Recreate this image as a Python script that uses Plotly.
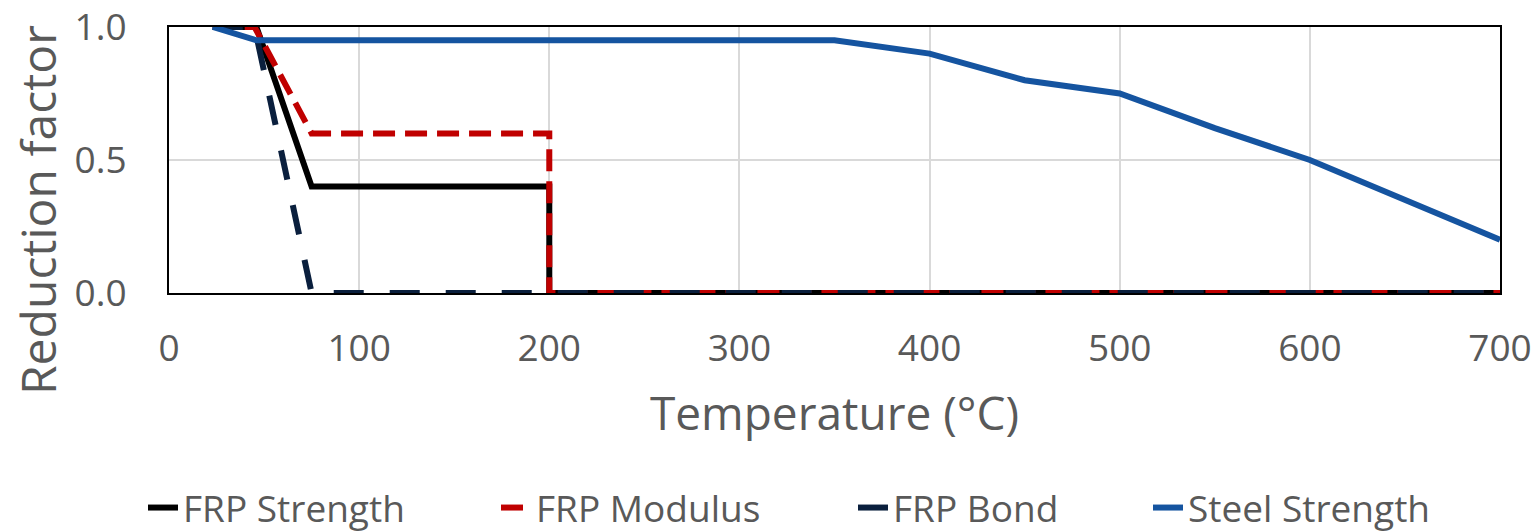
import plotly.graph_objects as go

# Data
frp_strength_T = [23, 46, 75, 200, 200, 700]
frp_strength_k = [1.0, 1.0, 0.4, 0.4, 0.0, 0.0]

frp_modulus_T = [23, 45, 75, 200, 200, 700]
frp_modulus_k = [1.0, 1.0, 0.6, 0.6, 0.0, 0.0]

frp_bond_T = [23, 45, 75, 700]
frp_bond_k = [1.0, 1.0, 0.0, 0.0]

steel_T = [23, 46, 350, 400, 450, 500, 550, 600, 700]
steel_k = [1.0, 0.95, 0.95, 0.9, 0.8, 0.75, 0.62, 0.5, 0.2]

x_ticks = [0, 100, 200, 300, 400, 500, 600, 700]
y_ticks = [0.0, 0.5, 1.0]
y_tick_labels = ["0.0", "0.5", "1.0"]

FONT = "Open Sans"
GREY = "#595959"

W, H = 1537, 532
L, R, T, B = 169, 37, 27, 239
PW = W - L - R
PH = H - T - B


def px_to_paper_x(px):
    return (px - L) / PW


def px_to_paper_y(py):
    return (H - B - py) / PH


fig = go.Figure()
fig.add_trace(go.Scatter(x=frp_strength_T, y=frp_strength_k, mode="lines", name="FRP Strength",
                         line=dict(color="#000000", width=6), legend="legend"))
fig.add_trace(go.Scatter(x=frp_modulus_T, y=frp_modulus_k, mode="lines", name="FRP Modulus",
                         line=dict(color="#C00000", width=6, dash="22px,10px"), legend="legend2"))
fig.add_trace(go.Scatter(x=frp_bond_T, y=frp_bond_k, mode="lines", name="FRP Bond",
                         line=dict(color="#0A1F3D", width=6, dash="30px,26px"), legend="legend3"))
fig.add_trace(go.Scatter(x=steel_T, y=steel_k, mode="lines", name="Steel Strength",
                         line=dict(color="#1554A0", width=6), legend="legend4"))

legend_text_starts = [185, 538, 895, 1190]
leg_common = dict(orientation="h", yanchor="middle", y=px_to_paper_y(508), xanchor="left",
                  font=dict(size=37, color=GREY, family=FONT), bgcolor="rgba(0,0,0,0)")
legends = {}
for i, xs in enumerate(legend_text_starts):
    key = "legend" if i == 0 else f"legend{i + 1}"
    legends[key] = dict(leg_common, x=px_to_paper_x(xs - 42))

fig.update_layout(
    width=W, height=H,
    margin=dict(l=L, r=R, t=T, b=B, autoexpand=False),
    paper_bgcolor="white", plot_bgcolor="white",
    font=dict(family=FONT, color=GREY),
    showlegend=True,
    **legends,
    xaxis=dict(range=[0, 700], tickvals=x_ticks, showgrid=True, gridcolor="#D9D9D9", gridwidth=2,
               showline=True, linecolor="black", linewidth=2, mirror=True, zeroline=False,
               ticks="outside", ticklen=22, tickcolor="rgba(0,0,0,0)", automargin=False,
               ticklabeloverflow="allow",
               tickfont=dict(size=37, color=GREY, family=FONT),
               title=dict(text="Temperature (°C)", font=dict(size=46, color=GREY, family=FONT), standoff=26)),
    yaxis=dict(range=[0, 1], tickvals=y_ticks, ticktext=y_tick_labels, showgrid=True, gridcolor="#D9D9D9",
               gridwidth=2, showline=True, linecolor="black", linewidth=2, mirror=True, zeroline=False,
               ticks="outside", ticklen=33, tickcolor="rgba(0,0,0,0)", automargin=False,
               ticklabeloverflow="allow",
               tickfont=dict(size=37, color=GREY, family=FONT)),
    annotations=[dict(text="Reduction factor", textangle=-90, xref="paper", yref="paper",
                      x=px_to_paper_x(37), y=px_to_paper_y(210), xanchor="center", yanchor="middle",
                      showarrow=False, font=dict(size=48, color=GREY, family=FONT))],
)

fig.write_html("out.html", config={"displayModeBar": False},
               post_script="document.body.style.margin='0';document.body.style.overflow='hidden';")
